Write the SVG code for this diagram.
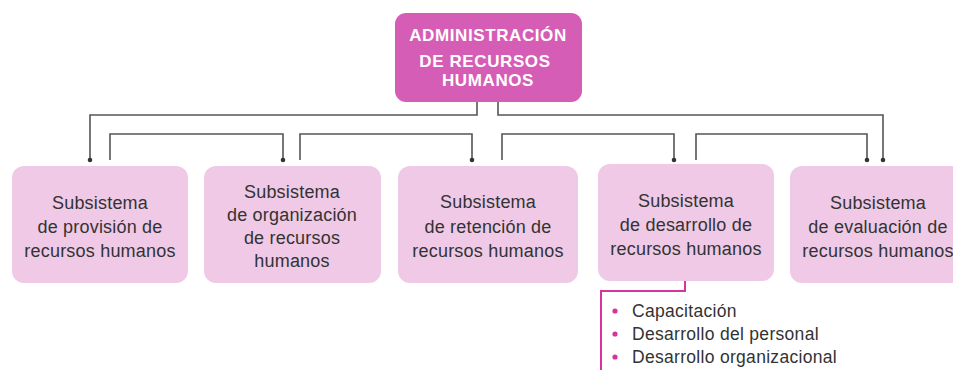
<svg xmlns="http://www.w3.org/2000/svg" width="953" height="370" viewBox="0 0 953 370">
<defs>
<marker id="dot" viewBox="0 0 6 6" refX="3" refY="3" markerWidth="6" markerHeight="6" markerUnits="userSpaceOnUse"><circle cx="3" cy="3" r="2.3" fill="#333"/></marker>
<style>
.bg{fill:#ffffff}
.box{fill:#efc9e6}
.top{fill:#d65db5}
.conn{fill:none;stroke:#555;stroke-width:1.6;marker-end:url(#dot)}
.pink{fill:none;stroke:#d6339e;stroke-width:2}
.tt{font-family:"Liberation Sans",Arial,sans-serif;font-size:17px;font-weight:bold;letter-spacing:0.6px;fill:#ffffff;text-anchor:middle}
.bt{font-family:"Liberation Sans",Arial,sans-serif;font-size:18px;letter-spacing:0.2px;fill:#333;text-anchor:middle}
.li{font-family:"Liberation Sans",Arial,sans-serif;font-size:17.5px;letter-spacing:0.3px;fill:#333}
.bul{fill:#d6339e}
</style>
</defs>
<rect class="bg" x="0" y="0" width="953" height="370"/>
<g id="connectors">
<path class="conn" d="M477,101 V115 H90 V160"/>
<path class="conn" d="M498,101 V115 H883 V160"/>
<path class="conn" d="M110,160 V134 H283 V160"/>
<path class="conn" d="M300,160 V134 H472 V160"/>
<path class="conn" d="M502,160 V134 H674 V160"/>
<path class="conn" d="M696,160 V134 H867 V160"/>
<path class="pink" d="M685,281 V291 H601 V370"/>
</g>
<g id="admin">
<rect class="top" x="395" y="13" width="187" height="89" rx="11"/>
<text class="tt" x="488" y="41">ADMINISTRACIÓN</text>
<text class="tt" x="485" y="67">DE RECURSOS</text>
<text class="tt" x="488" y="86">HUMANOS</text>
</g>
<g id="provision">
<rect class="box" x="12" y="166" width="176" height="117" rx="12"/>
<text class="bt" x="100" y="209">Subsistema</text>
<text class="bt" x="100" y="233">de provisión de</text>
<text class="bt" x="100" y="257">recursos humanos</text>
</g>
<g id="organizacion">
<rect class="box" x="204" y="166" width="177" height="117" rx="12"/>
<text class="bt" x="292" y="198">Subsistema</text>
<text class="bt" x="292" y="221">de organización</text>
<text class="bt" x="292" y="244">de recursos</text>
<text class="bt" x="292" y="267">humanos</text>
</g>
<g id="retencion">
<rect class="box" x="398" y="166" width="180" height="117" rx="12"/>
<text class="bt" x="488" y="208">Subsistema</text>
<text class="bt" x="488" y="233">de retención de</text>
<text class="bt" x="488" y="257">recursos humanos</text>
</g>
<g id="desarrollo">
<rect class="box" x="598" y="164" width="176" height="117" rx="12"/>
<text class="bt" x="686" y="207">Subsistema</text>
<text class="bt" x="686" y="231">de desarrollo de</text>
<text class="bt" x="686" y="255">recursos humanos</text>
</g>
<g id="evaluacion">
<rect class="box" x="790" y="166" width="180" height="117" rx="12"/>
<text class="bt" x="878" y="209">Subsistema</text>
<text class="bt" x="878" y="233">de evaluación de</text>
<text class="bt" x="878" y="257">recursos humanos</text>
</g>
<g id="lista">
<circle class="bul" cx="615" cy="311" r="2.6"/>
<circle class="bul" cx="615" cy="334" r="2.6"/>
<circle class="bul" cx="615" cy="357" r="2.6"/>
<text class="li" x="632" y="317">Capacitación</text>
<text class="li" x="632" y="340">Desarrollo del personal</text>
<text class="li" x="632" y="363">Desarrollo organizacional</text>
</g>
</svg>
